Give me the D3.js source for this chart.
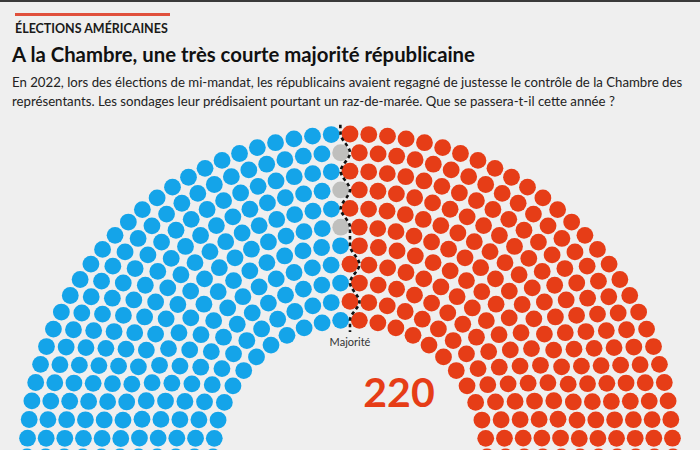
<!DOCTYPE html>
<html><head><meta charset="utf-8">
<script src="https://cdn.jsdelivr.net/npm/d3@7"></script>
<style>
html,body{margin:0;padding:0;background:#efefef;}
svg{display:block;}
</style></head>
<body>
<script>
// ---- data ----
const parties = ["Démocrates", "Sièges vacants", "Républicains"];
const seats = [212, 3, 220];
const majority = 218;
const kicker = "ÉLECTIONS AMÉRICAINES";
const title = "A la Chambre, une très courte majorité républicaine";
const subtitle = [
  "En 2022, lors des élections de mi-mandat, les républicains avaient regagné de justesse le contrôle de la Chambre des",
  "représentants. Les sondages leur prédisaient pourtant un raz-de-marée. Que se passera-t-il cette année ?"
];
const majorityLabel = "Majorité";
const highlightLabel = String(seats[2]);

// ---- styles ----
const W = 700, H = 450;
const colors = {"Démocrates": "#14a4e9", "Sièges vacants": "#bfbfbd", "Républicains": "#e63d17"};
const font = "Lato, 'Noto Sans', sans-serif";

const svg = d3.select("body").append("svg").attr("width", W).attr("height", H);
svg.append("rect").attr("width", W).attr("height", H).attr("fill", "#efefef");
svg.append("rect").attr("width", W).attr("height", 2).attr("fill", "#3a3a3a");
svg.append("rect").attr("x", 15).attr("y", 13).attr("width", 155).attr("height", 3).attr("fill", "#e0503c");

function fit(sel, target) {
  const w = sel.node().getComputedTextLength();
  const fs = parseFloat(sel.attr("font-size"));
  sel.attr("font-size", fs * target / w);
}

const k = svg.append("text").attr("x", 15).attr("y", 32.5).attr("font-family", font)
  .attr("font-weight", 700).attr("font-size", 12.5).attr("fill", "#1a1a1a").text(kicker);
fit(k, 153);
const t = svg.append("text").attr("x", 12).attr("y", 62).attr("font-family", font)
  .attr("font-weight", 700).attr("font-size", 20).attr("fill", "#111").text(title);
fit(t, 463);
const s1 = svg.append("text").attr("x", 12).attr("y", 87).attr("font-family", font)
  .attr("font-size", 14).attr("fill", "#222").text(subtitle[0]);
fit(s1, 671);
const fsSub = s1.attr("font-size");
svg.append("text").attr("x", 12).attr("y", 106).attr("font-family", font)
  .attr("font-size", fsSub).attr("fill", "#222").text(subtitle[1]);

// ---- hemicycle layout ----
const cx = 350, cy = 457;
const rInner = 137, rOuter = 323, nRows = 11;
const total = d3.sum(seats);
const rowScale = d3.scaleLinear().domain([0, nRows - 1]).range([rInner, rOuter]);
const radii = d3.range(nRows).map(rowScale);
const sumR = d3.sum(radii);
// seats per row (largest remainder)
let raw = radii.map(r => total * r / sumR);
let perRow = raw.map(Math.floor);
let rem = total - d3.sum(perRow);
raw.map((v, i) => [v - Math.floor(v), i]).sort((a, b) => b[0] - a[0]).slice(0, rem).forEach(d => perRow[d[1]]++);

let pts = [];
radii.forEach((r, i) => {
  const n = perRow[i];
  for (let j = 0; j < n; j++) {
    const a = Math.PI - Math.PI * j / (n - 1);
    pts.push({row: i, r: r, a: a});
  }
});
pts.sort((p, q) => (Math.abs(p.a - q.a) > 1e-9 ? q.a - p.a : p.r - q.r));
// assign parties
const cum = d3.cumsum(seats);
pts.forEach((p, i) => {
  const pi = cum.findIndex(c => i < c);
  p.party = parties[pi];
  p.idx = i;
  p.x = cx + p.r * Math.cos(p.a);
  p.y = cy - p.r * Math.sin(p.a);
});

svg.append("g").selectAll("circle").data(pts).join("circle")
  .attr("cx", d => d.x).attr("cy", d => d.y).attr("r", 8.4)
  .attr("fill", d => colors[d.party]);

// majority line: boundary leaving `majority` seats on the right
const split = total - majority;
const line = [];
for (let i = nRows - 1; i >= 0; i--) {
  const rowPts = pts.filter(p => p.row === i);
  const left = rowPts.filter(p => p.idx < split);
  const right = rowPts.filter(p => p.idx >= split);
  const aL = d3.min(left, p => p.a), aR = d3.max(right, p => p.a);
  line.push({r: radii[i], a: (aL + aR) / 2});
}
const step = (rOuter - rInner) / (nRows - 1);
const full = [{r: rOuter + step * 0.5, a: line[0].a}, ...line, {r: rInner - step * 0.65, a: line[line.length - 1].a}];
svg.append("path")
  .attr("d", d3.line().x(d => cx + d.r * Math.cos(d.a)).y(d => cy - d.r * Math.sin(d.a)).curve(d3.curveMonotoneY)(full))
  .attr("fill", "none").attr("stroke", "#111").attr("stroke-width", 2.6).attr("stroke-dasharray", "3.5,3");

svg.append("text").attr("x", 350).attr("y", 346).attr("text-anchor", "middle").attr("font-family", font)
  .attr("font-size", 11).attr("fill", "#333").text(majorityLabel);
svg.append("text").attr("x", 399).attr("y", 407).attr("text-anchor", "middle").attr("font-family", font)
  .attr("font-weight", 700).attr("font-size", 41).attr("fill", colors["Républicains"]).text(highlightLabel);
</script>
</body></html>
